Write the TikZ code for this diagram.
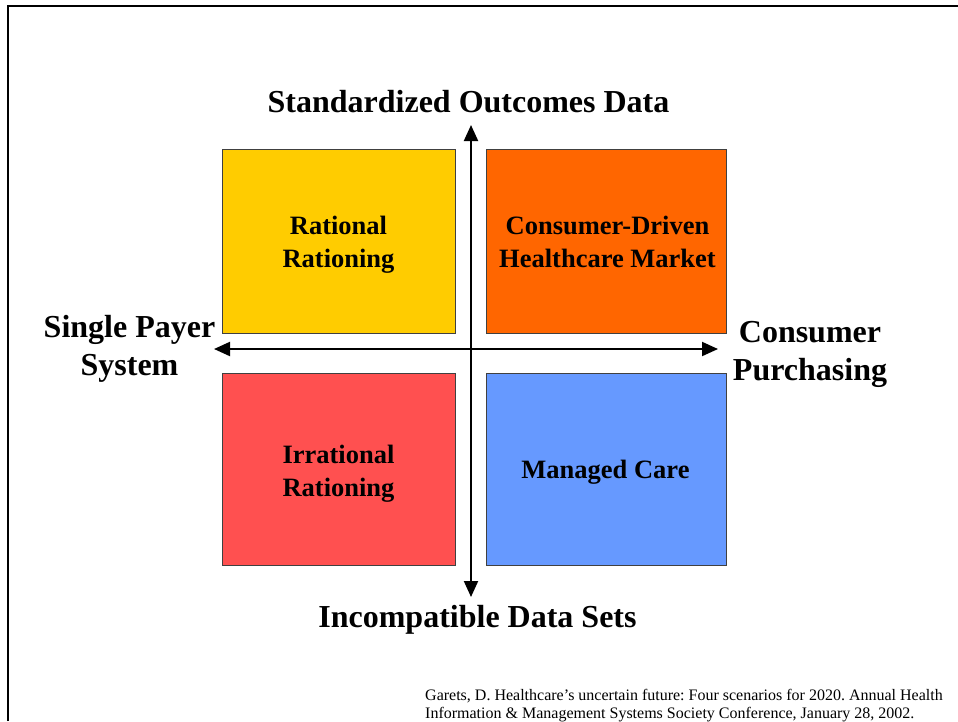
\documentclass[tikz,border=0pt]{standalone}
\usepackage{fontspec}
\setmainfont{Liberation Serif}
\usetikzlibrary{arrows.meta}
\frenchspacing
\begin{document}
\begin{tikzpicture}[x=1pt,y=-1pt,
  quad/.style={draw=black!75, line width=0.8pt, inner sep=0pt},
  axis/.style={line width=2pt,
    {Triangle[length=16pt,width=14pt]}-{Triangle[length=16pt,width=14pt]}},
  axislabel/.style={font=\bfseries\fontsize{32}{38}\selectfont, align=center, inner sep=0pt, anchor=base},
  quadlabel/.style={font=\bfseries\fontsize{26.5}{33}\selectfont, align=center, inner sep=0pt, anchor=base},
  note/.style={font=\fontsize{16}{18}\selectfont, align=left, inner sep=0pt, anchor=base west}]
\useasboundingbox (0,0) rectangle (958,721);
\fill[white] (0,0) rectangle (958,721);
% slide frame (top and left edges)
\draw[line width=2pt] (7.5,721) -- (7.5,6.2) -- (958,6.2);

% quadrants
\node[quad, fill={rgb,255:red,255;green,204;blue,0}, minimum width=233, minimum height=184] (yel) at (338.5,241) {};
\node[quad, fill={rgb,255:red,255;green,102;blue,0}, minimum width=240, minimum height=184] (org) at (606,241) {};
\node[quad, fill={rgb,255:red,255;green,80;blue,80}, minimum width=233, minimum height=192] (red) at (338.5,469) {};
\node[quad, fill={rgb,255:red,102;green,153;blue,255}, minimum width=240, minimum height=192] (blu) at (606,469) {};

% quadrant labels (anchored on the baseline of their last line)
\node[quadlabel] (rr) at (338.5,267) {Rational\\Rationing};
\node[quadlabel] (cd) at (607.5,267) {Consumer-Driven\\Healthcare Market};
\node[quadlabel] (ir) at (338.5,496) {Irrational\\Rationing};
\node[quadlabel] (mc) at (605.5,478) {Managed Care};

% axes
\coordinate (ntip) at (471,125);
\coordinate (stip) at (471,597);
\coordinate (wtip) at (214,349);
\coordinate (etip) at (718,349);
\draw[axis] (stip) -- (ntip);
\draw[axis] (wtip) -- (etip);

% axis labels
\node[axislabel] (top) at (468.5,112) {Standardized Outcomes Data};
\node[axislabel] (bot) at (477.5,627) {Incompatible Data Sets};
\node[axislabel] (lft) at (129.5,375) {Single Payer\\System};
\node[axislabel] (rgt) at (810,380) {Consumer\\Purchasing};

% source
\node[note] (src) at (425,718) {Garets, D. Healthcare’s uncertain future: Four scenarios for 2020. Annual Health\\Information \& Management Systems Society Conference, January 28, 2002.};
\end{tikzpicture}
\end{document}
